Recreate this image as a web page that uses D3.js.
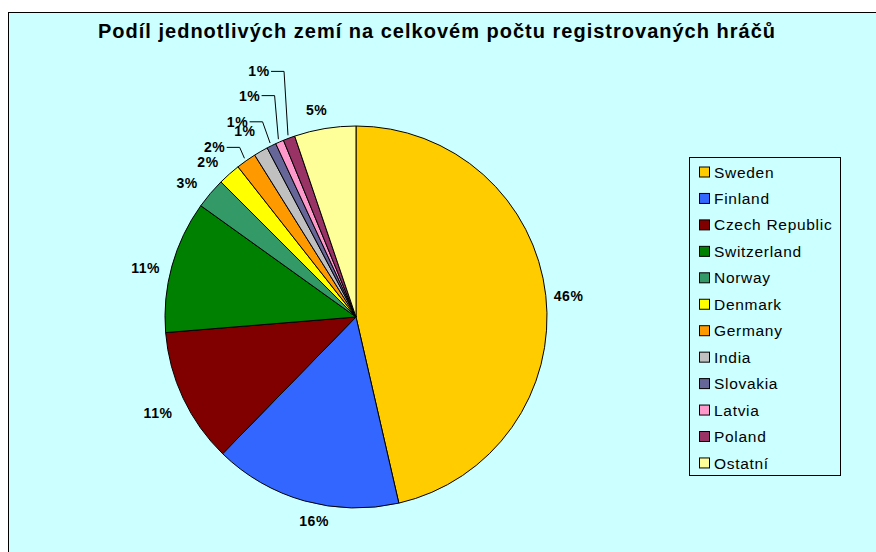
<!DOCTYPE html>
<html><head><meta charset="utf-8">
<script src="https://cdn.jsdelivr.net/npm/d3@7"></script>
<style>html,body{margin:0;padding:0;background:#fff;overflow:hidden}</style>
</head><body>
<svg id="c" width="876" height="552"></svg>
<script>
const title = "Podíl jednotlivých zemí na celkovém počtu registrovaných hráčů";
const categories = ["Sweden","Finland","Czech Republic","Switzerland","Norway","Denmark","Germany","India","Slovakia","Latvia","Poland","Ostatní"];
const shares = [46.4,15.9,11.4,11.2,2.6,1.9,1.7,1.2,0.8,0.7,1.0,5.2];
const colors = ["#FFCC00","#3366FF","#800000","#008000","#339966","#FFFF00","#FF9900","#C0C0C0","#666699","#FF99CC","#993366","#FFFF99"];
// layout nudges for labels (pixels) and which labels use leader lines
const labelNudge = [[3,3],[15,1],[-7,6],[-7,7],[-8,2],[-8,3],[-20,3],[-6,-3],[-25,-6],[-22,-28],[-23,-48],[-5,1]];
const leader = [false,false,false,false,false,false,true,false,true,true,true,false];

const FONT = "Liberation Sans, Arial, sans-serif";
const svg = d3.select("#c");
const W = 876, H = 552;
// chart area (extends beyond the window on the right and bottom)
svg.append("rect").attr("x",8.5).attr("y",12.5).attr("width",W+20).attr("height",H+20)
  .attr("fill","#CCFFFF").attr("stroke","#000").attr("stroke-width",1);

svg.append("text").attr("x",98).attr("y",38)
  .attr("font-family",FONT).attr("font-weight","bold")
  .attr("font-size",20).attr("textLength",677).attr("lengthAdjust","spacing").text(title);

const cx = 356, cy = 317, R = 191;
const pie = d3.pie().sort(null).value(d=>d)(shares);
const arc = d3.arc().innerRadius(0).outerRadius(R);
const g = svg.append("g").attr("transform",`translate(${cx},${cy})`);
g.selectAll("path").data(pie).join("path")
  .attr("d",arc).attr("fill",(d,i)=>colors[i])
  .attr("stroke","#000").attr("stroke-width",1).attr("stroke-linejoin","round");

const fmt = d3.format(".0f");
const LR = 211;
pie.forEach((d,i)=>{
  const a = (d.startAngle+d.endAngle)/2;
  const lx = LR*Math.sin(a) + labelNudge[i][0];
  const ly = -LR*Math.cos(a) + labelNudge[i][1];
  g.append("text").attr("x",lx).attr("y",ly).attr("dy","0.36em")
    .attr("text-anchor","middle")
    .attr("font-family",FONT).attr("font-weight","bold")
    .attr("font-size",14).attr("letter-spacing",0.6).attr("fill","#000")
    .text(fmt(shares[i])+"%");
  if (leader[i]) {
    const ex = 194*Math.sin(a), ey = -194*Math.cos(a);
    g.append("path").attr("d",`M${lx+12},${ly}H${lx+25}L${ex},${ey}`)
      .attr("fill","none").attr("stroke","#000").attr("stroke-width",1);
  }
});

// legend
const lg = svg.append("g");
lg.append("rect").attr("x",689.5).attr("y",157.5).attr("width",151).attr("height",318)
  .attr("fill","#CCFFFF").attr("stroke","#000").attr("stroke-width",1);
const ly0 = 172, lstep = 26.45;
categories.forEach((c,i)=>{
  const y = ly0 + i*lstep;
  lg.append("rect").attr("x",699.5).attr("y",y-5).attr("width",10).attr("height",10)
    .attr("fill",colors[i]).attr("stroke","#000").attr("stroke-width",1);
  lg.append("text").attr("x",714).attr("y",y).attr("dy","0.36em")
    .attr("font-family",FONT).attr("font-size",15.5).attr("letter-spacing",0.7)
    .attr("fill","#000").text(c);
});
</script>
</body></html>
